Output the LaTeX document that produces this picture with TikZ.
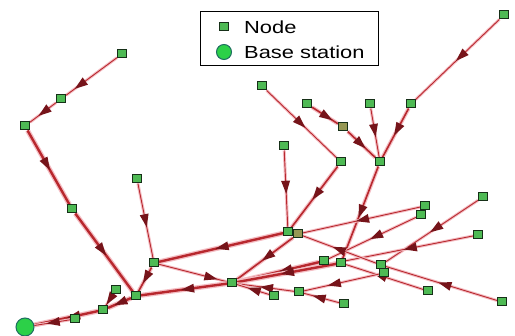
\documentclass[tikz,border=0pt]{standalone}
\usepackage{fontspec}
\newfontfamily\legfont{Liberation Sans}
\usetikzlibrary{decorations.markings}
\definecolor{linec}{RGB}{184,40,46}
\definecolor{haloc}{RGB}{244,190,196}
\definecolor{arrowc}{RGB}{118,20,26}
\definecolor{nodef}{RGB}{78,186,84}
\definecolor{nodeb}{RGB}{22,48,24}
\definecolor{olivef}{RGB}{150,152,84}
\definecolor{basef}{RGB}{44,208,72}
\definecolor{baseb}{RGB}{30,110,96}
\pgfdeclarelayer{bg}
\pgfsetlayers{bg,main}
\tikzset{
  nd/.style={rectangle, minimum width=9pt, minimum height=8pt, inner sep=0pt, fill=nodef, draw=nodeb, line width=1pt},
  ndo/.style={nd, fill=olivef},
  bs/.style={circle, minimum size=18pt, inner sep=0pt, fill=basef, draw=baseb, line width=1pt},
  el/.style={draw=linec, line width=0.9pt, preaction={draw=haloc, line width=3pt}},
  em/.style={draw=linec, line width=1.6pt, preaction={draw=haloc, line width=4pt}},
  eh/.style={draw=linec, line width=2.4pt, preaction={draw=haloc, line width=5pt}},
  am/.style={postaction={decorate}, decoration={markings, mark=at position #1 with {\fill[arrowc] (5.5pt,0pt) -- (-7.5pt,4.5pt) -- (-7.5pt,-4.5pt) -- cycle;}}},
  legbox/.style={rectangle, draw=black, line width=1pt, fill=white, minimum width=178pt, minimum height=54pt, inner sep=0pt},
  legtext/.style={anchor=west, inner sep=0pt, font=\legfont\fontsize{17.5}{20}\selectfont},
}
\begin{document}
\begin{tikzpicture}[x=1pt,y=-1pt]
\useasboundingbox (0,0) rectangle (515,336);
% legend
\node[legbox] (leg) at (289,39) {};
\node[nd] (legn) at (224,27) {};
\node[bs, minimum size=15pt] (legb) at (224,52) {};
\node[legtext] (legt1) at (244,27) {\scalebox{1.25}[1]{Node}};
\node[legtext] (legt2) at (244,52) {\scalebox{1.25}[1]{Base station}};
% nodes
\node[bs] (B) at (25,327) {};
\node[nd] (n1) at (122,54) {};
\node[nd] (n2) at (61,99) {};
\node[nd] (n3) at (25,126) {};
\node[nd] (n4) at (72,209) {};
\node[nd] (n5) at (137,179) {};
\node[nd] (n6) at (154,263) {};
\node[nd] (n7) at (136,296) {};
\node[nd] (n8) at (116,290) {};
\node[nd] (n9) at (103,310) {};
\node[nd] (n10) at (75,319) {};
\node[nd] (n11) at (232,283) {};
\node[nd] (n12) at (262,86) {};
\node[nd] (n13) at (307,104) {};
\node[ndo] (n14) at (343,127) {};
\node[nd] (n15) at (370,104) {};
\node[nd] (n16) at (411,104) {};
\node[nd] (n17) at (504,15) {};
\node[nd] (n18) at (284,146) {};
\node[nd] (n19) at (341,162) {};
\node[nd] (n20) at (380,162) {};
\node[nd] (n21) at (288,232) {};
\node[ndo] (n22) at (298,234) {};
\node[nd] (n23) at (425,206) {};
\node[nd] (n24) at (421,215) {};
\node[nd] (n25) at (483,197) {};
\node[nd] (n26) at (478,235) {};
\node[nd] (n27) at (324,261) {};
\node[nd] (n28) at (341,263) {};
\node[nd] (n29) at (381,265) {};
\node[nd] (n30) at (384,273) {};
\node[nd] (n31) at (428,291) {};
\node[nd] (n32) at (502,302) {};
\node[nd] (n33) at (299,292) {};
\node[nd] (n34) at (274,296) {};
\node[nd] (n35) at (344,304) {};
% edges
\begin{pgfonlayer}{bg}
\draw[el, am=0.74] (n1) -- (n2);
\draw[el, am=0.5] (n2) -- (n3);
\draw[eh, am=0.47] (n3) -- (n4);
\draw[eh, am=0.48] (n4) -- (n7);
\draw[el, am=0.51] (n5) -- (n6);
\draw[em, am=0.45] (n6) -- (n7);
\draw[eh, am=0.5] (n7) -- (n9);
\draw[el, am=0.5] (n8) -- (n9);
\draw[eh, am=0.4] (n9) -- (B);
\draw[el, am=0.5] (n10) -- (B);
\draw[el, am=0.5] (n12) -- (n19);
\draw[em, am=0.6] (n13) -- (n14);
\draw[em, am=0.5] (n14) -- (n20);
\draw[el, am=0.47] (n15) -- (n20);
\draw[em, am=0.45] (n16) -- (n20);
\draw[el, am=0.47] (n17) -- (n16);
\draw[el, am=0.49] (n18) -- (n21);
\draw[em, am=0.47] (n19) -- (n21);
\draw[em, am=0.5] (n20) -- (n28);
\draw[eh, am=0.5] (n21) -- (n6);
\draw[em, am=0.47] (n22) -- (n11);
\draw[el, am=0.5] (n23) -- (n22);
\draw[el, am=0.47] (n24) -- (n27);
\draw[el, am=0.47] (n25) -- (n29);
\draw[el, am=0.27] (n26) -- (n11);
\draw[eh, am=0.42] (n27) -- (n11);
\draw[eh, am=0.5] (n28) -- (n11);
\draw[el, am=0.52] (n29) -- (n22);
\draw[el, am=0.48] (n32) -- (n29);
\draw[el, am=0.57] (n31) -- (n28);
\draw[el, am=0.61] (n30) -- (n33);
\draw[el, am=0.6] (n35) -- (n33);
\draw[el, am=0.5] (n33) -- (n11);
\draw[el, am=0.5] (n34) -- (n11);
\draw[el, am=0.78] (n6) -- (n11);
\draw[eh, am=0.47] (n11) -- (n7);
\end{pgfonlayer}
\end{tikzpicture}
\end{document}
